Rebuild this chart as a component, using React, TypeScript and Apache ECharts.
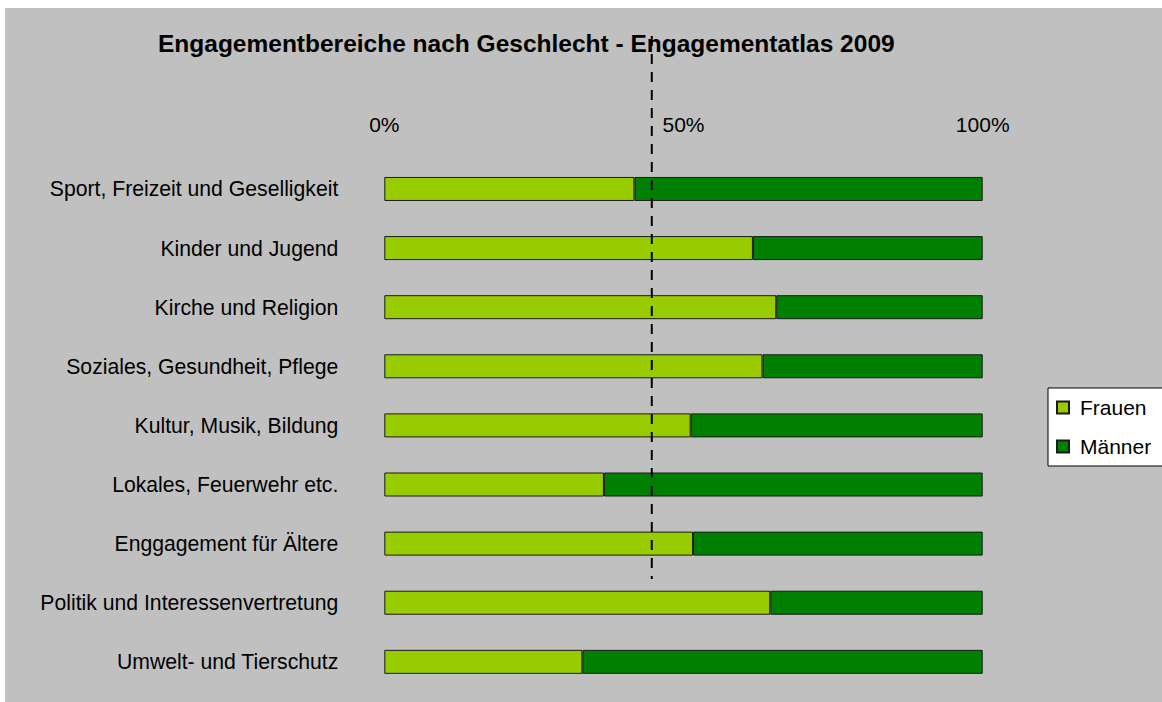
import React, { useEffect, useRef } from "react";
import * as echarts from "echarts";

const TITLE = "Engagementbereiche nach Geschlecht - Engagementatlas 2009";
const categories = [
  "Sport, Freizeit und Geselligkeit",
  "Kinder und Jugend",
  "Kirche und Religion",
  "Soziales, Gesundheit, Pflege",
  "Kultur, Musik, Bildung",
  "Lokales, Feuerwehr etc.",
  "Enggagement für Ältere",
  "Politik und Interessenvertretung",
  "Umwelt- und Tierschutz",
];
const frauen = [41.8, 61.6, 65.5, 63.2, 51.2, 36.7, 51.6, 64.5, 33.1];
const maenner = [58.2, 38.4, 34.5, 36.8, 48.8, 63.3, 48.4, 35.5, 66.9];
const seriesNames = ["Frauen", "Männer"];
const referenceValue = 44.7;

const FONT = "Liberation Sans, Arial, sans-serif";

export default function App() {
  const ref = useRef<HTMLDivElement>(null);
  useEffect(() => {
    document.body.style.margin = "0";
    const chart = echarts.init(ref.current!, null, { renderer: "svg" });
    const bg = { type: "rect", z: -10, silent: true, shape: { x: 5, y: 8, width: 1160, height: 700 }, style: { fill: "#c0c0c0" } };
    const option: any = {
      animation: false,
      backgroundColor: "#ffffff",
      textStyle: { fontFamily: FONT },
      title: {
        text: TITLE,
        left: 158,
        top: 31,
        padding: 0,
        textStyle: { fontFamily: FONT, fontSize: 24.5, fontWeight: "bold", color: "#000" },
      },
      legend: {
        orient: "vertical",
        left: 1048,
        top: 388,
        backgroundColor: "#ffffff",
        borderColor: "#000",
        borderWidth: 1,
        borderRadius: 0,
        padding: [9, 40, 9, 8],
        itemWidth: 12,
        itemHeight: 12,
        itemGap: 18,
        icon: "rect",
        textStyle: { fontFamily: FONT, fontSize: 21, color: "#000", padding: [0, 0, 0, 6] },
        data: seriesNames,
      },
      grid: { left: 384.3, right: 179.3, top: 159.4, height: 532, containLabel: false },
      xAxis: {
        type: "value",
        position: "top",
        min: 0,
        max: 100,
        interval: 50,
        axisLine: { show: false },
        axisTick: { show: false },
        splitLine: { show: false },
        axisLabel: { formatter: "{value}%", fontSize: 21, color: "#000", fontFamily: FONT, margin: 24 },
      },
      yAxis: {
        type: "category",
        inverse: true,
        data: categories,
        axisLine: { show: false },
        axisTick: { show: false },
        axisLabel: { fontSize: 21.2, color: "#000", fontFamily: FONT, margin: 46 },
      },
      series: [
        {
          name: seriesNames[0],
          type: "bar",
          stack: "total",
          barWidth: 24,
          data: frauen,
          itemStyle: { color: "#99cc00", borderColor: "#1a1a1a", borderWidth: 1 },
        },
        {
          name: seriesNames[1],
          type: "bar",
          stack: "total",
          barWidth: 24,
          data: maenner,
          itemStyle: { color: "#008000", borderColor: "#1a1a1a", borderWidth: 1 },
        },
      ],
      graphic: [bg],
    };
    chart.setOption(option);
    const px = chart.convertToPixel({ xAxisIndex: 0 }, referenceValue) as number;
    chart.setOption({
      graphic: [
        bg,
        {
          type: "line",
          z: 100,
          silent: true,
          shape: { x1: px, y1: 36, x2: px, y2: 579 },
          style: { stroke: "#000", lineWidth: 2, lineDash: [10, 8] },
        },
      ],
    });
    return () => chart.dispose();
  }, []);
  return <div ref={ref} style={{ width: 1162, height: 702 }} />;
}
